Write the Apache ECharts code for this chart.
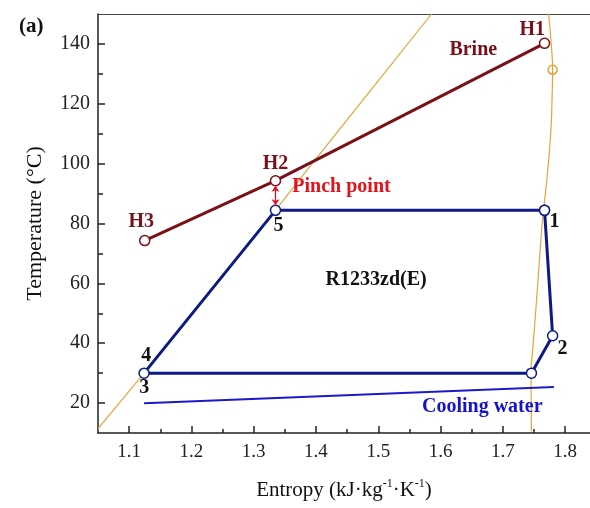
<!DOCTYPE html>
<html>
<head>
<meta charset="utf-8">
<script src="https://cdn.jsdelivr.net/npm/echarts@6/dist/echarts.min.js"></script>
<style>
  html, body { margin: 0; padding: 0; background: #fff; }
  #chart { width: 590px; height: 508px; }
</style>
</head>
<body>
<div id="chart"></div>
<script>
// Saturation dome of R1233zd(E): [entropy, temperature]
const liquidLine = [[1.05, 11.5], [1.124, 30], [1.2, 49.5], [1.335, 84.4], [1.39, 99], [1.5855, 150]];
const vaporLine = [[1.7736, 150], [1.7772, 141.4], [1.780, 131.4], [1.779, 121.4], [1.7775, 112], [1.7723, 98.1],
                   [1.7656, 84.8], [1.7624, 78.1], [1.7555, 58.1], [1.7482, 38.1], [1.7453, 30.4], [1.746, 10.5]];
const domeMarker = [[1.780, 131.4]];

// Heat source (brine): H3 -> H2 -> H1
const brine = [[1.125, 74.3], [1.335, 94.3], [1.767, 140.2]];

// ORC cycle states: 1 -> 2 -> condensation start -> 3/4 -> 5 -> 1
const cycle = [[1.767, 84.4], [1.780, 42.5], [1.746, 30], [1.124, 30], [1.335, 84.4], [1.767, 84.4]];

// Cooling water temperature line
const coolingWater = [[1.124, 19.9], [1.782, 25.4]];

// Pinch point gap between H2 and state 5
const pinchGap = [[1.335, 92.6], [1.335, 86.1]];

// Annotation text: [label, entropy, temperature, color]
const annotations = [
  ['H1', 1.7474, 144.8, '#7a1018'],
  ['Brine', 1.6526, 138.1, '#7a1018'],
  ['H2', 1.3349, 100.1, '#7a1018'],
  ['Pinch point', 1.441, 92.4, '#e0141c'],
  ['H3', 1.1193, 80.4, '#7a1018'],
  ['5', 1.3397, 79.1, '#111'],
  ['1', 1.7828, 80.4, '#111'],
  ['2', 1.7957, 38.1, '#111'],
  ['4', 1.1273, 35.8, '#111'],
  ['3', 1.1241, 25.1, '#111'],
  ['R1233zd(E)', 1.4966, 61.1, '#111'],
  ['Cooling water', 1.667, 18.8, '#1414c8']
];

// Axis ticks
const xMajor = [1.1, 1.2, 1.3, 1.4, 1.5, 1.6, 1.7, 1.8];
const xMinor = [1.15, 1.25, 1.35, 1.45, 1.55, 1.65, 1.75];
const yMajor = [20, 40, 60, 80, 100, 120, 140];
const yMinor = [30, 50, 70, 90, 110, 130];

const FONT = '"Liberation Serif", "DejaVu Serif", serif';
const AXIS_COLOR = '#222';

const chart = echarts.init(document.getElementById('chart'));

const baseX = {
  type: 'value', min: 1.05, max: 1.84,
  splitLine: { show: false }
};
const baseY = {
  type: 'value', min: 10, max: 150,
  splitLine: { show: false }
};

chart.setOption({
  animation: false,
  backgroundColor: '#fff',
  title: {
    text: '(a)', left: 14, top: 11,
    textStyle: { fontFamily: FONT, fontWeight: 'bold', fontSize: 21, color: '#111' }
  },
  grid: { left: 98, right: 0, top: 14, bottom: 75 },
  xAxis: [
    Object.assign({}, baseX, {
      position: 'bottom',
      name: 'Entropy (kJ·kg{sup|-1}·K{sup|-1})', nameLocation: 'middle', nameGap: 45,
      nameTextStyle: {
        fontFamily: FONT, fontSize: 21, color: '#111', lineHeight: 24,
        rich: { sup: { fontFamily: FONT, fontSize: 12, color: '#111', verticalAlign: 'top', lineHeight: 24, padding: [0, 0, 8, 0] } }
      },
      axisLine: { show: true, lineStyle: { color: AXIS_COLOR, width: 1.5 } },
      axisTick: { show: true, inside: true, length: 7, customValues: xMajor, lineStyle: { color: AXIS_COLOR, width: 1.5 } },
      axisLabel: { customValues: xMajor, margin: 10, fontFamily: FONT, fontSize: 19, color: '#222',
                   formatter: v => v.toFixed(1) }
    }),
    Object.assign({}, baseX, {
      position: 'bottom',
      axisLine: { show: false },
      axisTick: { show: true, inside: true, length: 4, customValues: xMinor, lineStyle: { color: AXIS_COLOR, width: 1.5 } },
      axisLabel: { show: false }
    }),
    Object.assign({}, baseX, {
      position: 'top',
      axisLine: { show: true, lineStyle: { color: '#444', width: 1.2 } },
      axisTick: { show: false },
      axisLabel: { show: false }
    })
  ],
  yAxis: [
    Object.assign({}, baseY, {
      position: 'left',
      name: 'Temperature (°C)', nameLocation: 'middle', nameGap: 52,
      nameTextStyle: { fontFamily: FONT, fontSize: 22, color: '#111' },
      axisLine: { show: true, lineStyle: { color: AXIS_COLOR, width: 1.5 } },
      axisTick: { show: true, inside: true, length: 7, customValues: yMajor, lineStyle: { color: AXIS_COLOR, width: 1.5 } },
      axisLabel: { customValues: yMajor, margin: 8, fontFamily: FONT, fontSize: 20, color: '#222' }
    }),
    Object.assign({}, baseY, {
      position: 'left',
      axisLine: { show: false },
      axisTick: { show: true, inside: true, length: 5, customValues: yMinor, lineStyle: { color: AXIS_COLOR, width: 1.5 } },
      axisLabel: { show: false }
    })
  ],
  series: [
    {
      name: 'Saturated liquid', type: 'line', data: liquidLine, smooth: 0.3,
      symbol: 'none', lineStyle: { color: '#e8a23c', width: 1.2 }, z: 1
    },
    {
      name: 'Saturated vapor', type: 'line', data: vaporLine, smooth: 0.4,
      symbol: 'none', lineStyle: { color: '#e8a23c', width: 1.2 }, z: 1
    },
    {
      name: 'Dome marker', type: 'scatter', data: domeMarker,
      symbol: 'circle', symbolSize: 9,
      itemStyle: { color: 'rgba(255,255,255,0)', borderColor: '#e8a23c', borderWidth: 1.5, opacity: 1 }, z: 2
    },
    {
      name: 'Cooling water', type: 'line', data: coolingWater,
      symbol: 'none', lineStyle: { color: '#1a1ac8', width: 2 }, z: 3
    },
    {
      name: 'Brine', type: 'line', data: brine,
      symbol: 'circle', symbolSize: 10, showAllSymbol: true,
      lineStyle: { color: '#7a1018', width: 3 },
      itemStyle: { color: '#fff', borderColor: '#7a1018', borderWidth: 1.5 }, z: 4
    },
    {
      name: 'R1233zd(E) cycle', type: 'line', data: cycle,
      symbol: 'circle', symbolSize: 10, showAllSymbol: true,
      lineStyle: { color: '#0c1a86', width: 3 },
      itemStyle: { color: '#fff', borderColor: '#0c1a86', borderWidth: 1.5 }, z: 5
    },
    {
      name: 'Pinch', type: 'lines', coordinateSystem: 'cartesian2d',
      symbol: ['arrow', 'arrow'], symbolSize: 6,
      lineStyle: { color: '#e0141c', width: 1.3, opacity: 1 },
      data: [{ coords: pinchGap }], z: 6
    },
    {
      name: 'Annotations', type: 'scatter', symbolSize: 0, silent: true, z: 10,
      itemStyle: { opacity: 1 },
      data: annotations.map(a => ({
        name: a[0], value: [a[1], a[2]],
        label: {
          show: true, position: 'inside', formatter: '{b}',
          fontFamily: FONT, fontWeight: 'bold', fontSize: 20, color: a[3]
        }
      }))
    }
  ]
});
</script>
</body>
</html>
